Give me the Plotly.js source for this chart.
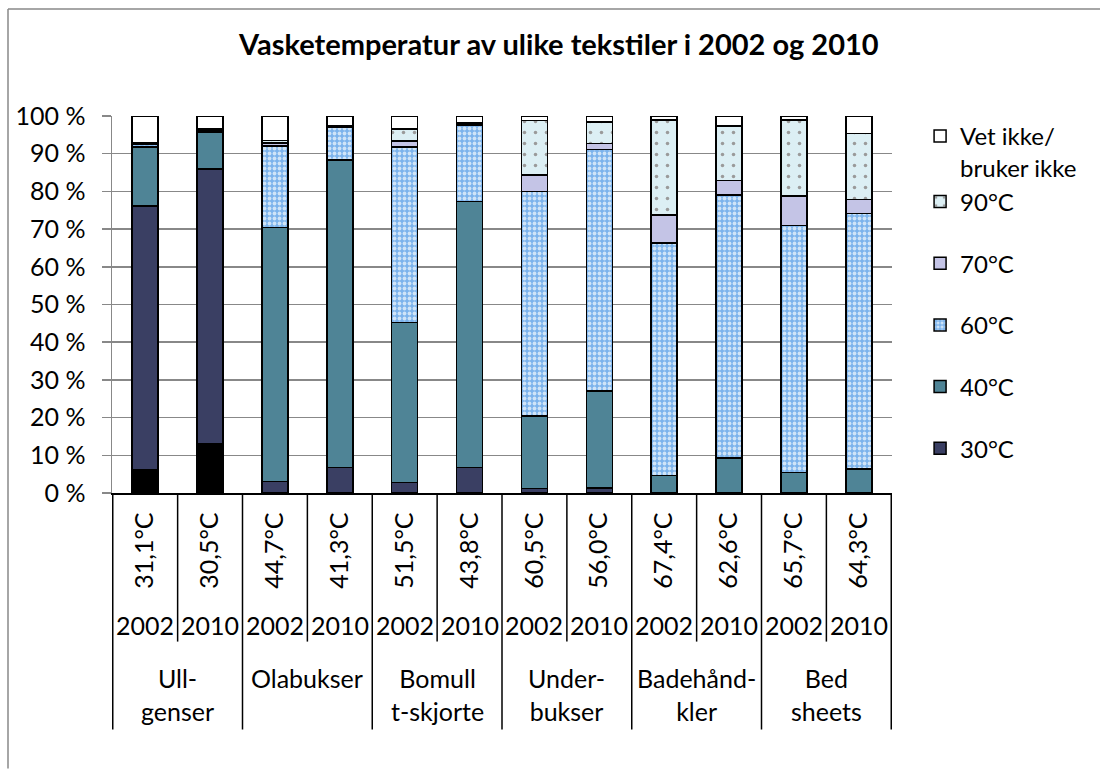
<!DOCTYPE html>
<html>
<head>
<meta charset="utf-8">
<script src="https://cdn.plot.ly/plotly-3.0.1.min.js"></script>
<style>
  html, body { margin: 0; padding: 0; background: #fff; }
  #chart { width: 1100px; height: 769px; }
</style>
</head>
<body>
<div id="chart"></div>
<script>
// ---- data ----
const temps = ['31,1°C','30,5°C','44,7°C','41,3°C','51,5°C','43,8°C','60,5°C','56,0°C','67,4°C','62,6°C','65,7°C','64,3°C'];
const years = ['2002','2010','2002','2010','2002','2010','2002','2010','2002','2010','2002','2010'];
const products = ['Ull-<br>genser','Olabukser','Bomull<br>t-skjorte','Under-<br>bukser','Badehånd-<br>kler','Bed<br>sheets'];

const under30 = [6.2, 13.0, 0, 0, 0, 0, 0, 0, 0, 0, 0, 0];
const c30 = [69.9, 73.0, 3.1, 6.8, 2.8, 6.7, 1.2, 1.3, 0, 0, 0, 0];
const c40 = [15.7, 9.8, 67.3, 81.5, 42.4, 70.6, 19.2, 25.7, 4.7, 9.3, 5.5, 6.4];
const c60 = [0.6, 0.3, 21.7, 8.6, 46.6, 20.2, 59.6, 64.1, 61.6, 69.7, 65.5, 67.8];
const c70 = [0.3, 0.2, 0.7, 0.3, 1.6, 0.4, 4.3, 1.6, 7.4, 3.9, 7.8, 3.7];
const c90 = [0.2, 0.2, 0.7, 0.3, 3.2, 0.4, 14.5, 5.7, 25.2, 14.4, 20.1, 17.4];
const vetIkke = [7.1, 3.5, 6.5, 2.5, 3.4, 1.7, 1.2, 1.6, 1.1, 2.7, 1.1, 4.7];
const yTicks = [0, 10, 20, 30, 40, 50, 60, 70, 80, 90, 100];
const yTickText = ['0 %', '10 %', '20 %', '30 %', '40 %', '50 %', '60 %', '70 %', '80 %', '90 %', '100 %'];

// ---- styling ----
const FONT = 'Lato, Carlito, Calibri, "Open Sans", sans-serif';
const FS = 25;
const line = {color: '#000000', width: 1.5};

function bar(name, y, marker, extra) {
  return Object.assign({
    type: 'bar', name: name, x: temps, y: y,
    marker: Object.assign({line: line}, marker),
    hoverinfo: 'name+y'
  }, extra || {});
}

const traces = [
  bar('Under 30°C', under30, {color: '#000000'}, {showlegend: false}),
  bar('30°C', c30, {color: '#3a3f63'}, {legendgroup: 'g30', legendrank: 6}),
  bar('40°C', c40, {color: '#4f8496'}, {legendgroup: 'g40', legendrank: 5}),
  bar('60°C', c60, {color: '#80b5ec', pattern: {shape: '.', fillmode: 'replace', bgcolor: '#7cb3ec', fgcolor: '#cfe4f8', size: 5, solidity: 0.45}}, {legendgroup: 'g60', legendrank: 4}),
  bar('70°C', c70, {color: '#c4c4e6'}, {legendgroup: 'g70', legendrank: 3}),
  bar('90°C', c90, {color: '#dceff4', pattern: {shape: '.', fillmode: 'replace', bgcolor: '#dceff4', fgcolor: '#9a9a9a', size: 11, solidity: 0.08}}, {legendgroup: 'gtop', legendrank: 2}),
  bar('Vet ikke/<br>bruker ikke', vetIkke, {color: '#ffffff'}, {legendgroup: 'gtop', legendrank: 1})
];

// geometry helpers (paper coords)
const L = 112, R = 208, T = 116, B = 769 - 493.3;
const PW = 1100 - L - R, PH = 769 - T - B;
const py = px => (769 - B - px) / PH;
const pxx = px => (px - L) / PW;

const annotations = [];
years.forEach((yr, i) => {
  annotations.push({x: i, xref: 'x', y: py(625), yref: 'paper', text: yr, showarrow: false,
    xanchor: 'center', yanchor: 'middle', font: {family: FONT, size: FS, color: '#000'}});
});
products.forEach((p, j) => {
  annotations.push({x: 2 * j + 0.5, xref: 'x', y: py(661), yref: 'paper', text: p, showarrow: false,
    xanchor: 'center', yanchor: 'top', font: {family: FONT, size: FS, color: '#000'}});
});

const shapes = [];
for (let k = 0; k <= temps.length; k++) {
  const long = (k % 2 === 0);
  shapes.push({type: 'line', xref: 'x', yref: 'paper', x0: k - 0.5, x1: k - 0.5,
    y0: 0, y1: long ? py(730) : py(642), line: {color: '#000', width: 1.5}});
}
// outer chart border (left & top)
shapes.push({type: 'line', xref: 'paper', yref: 'paper', x0: pxx(8), x1: pxx(1100), y0: py(9), y1: py(9), line: {color: '#888', width: 1.5}});
shapes.push({type: 'line', xref: 'paper', yref: 'paper', x0: pxx(8), x1: pxx(8), y0: py(9), y1: py(769), line: {color: '#888', width: 1.5}});

const layout = {
  width: 1100, height: 769,
  margin: {l: L, r: R, t: T, b: B, pad: 0},
  paper_bgcolor: '#ffffff', plot_bgcolor: '#ffffff',
  barmode: 'stack', bargap: 0.6,
  font: {family: FONT, size: FS, color: '#000'},
  title: {text: '<b>Vasketemperatur av ulike tekstiler i 2002 og 2010</b>', x: 0.508, xanchor: 'center',
    y: 1 - 45 / 769, yanchor: 'middle', font: {family: FONT, size: 29, color: '#000'}},
  xaxis: {type: 'category', tickangle: -90, ticks: '', showgrid: false, showline: true,
    linecolor: '#000', linewidth: 1.5, tickfont: {family: FONT, size: FS, color: '#000'},
    ticklabelstandoff: 8, fixedrange: true, zeroline: false},
  yaxis: {range: [0, 100], tickmode: 'array', tickvals: yTicks, ticktext: yTickText, ticks: 'outside', ticklen: 9,
    tickcolor: '#888', tickwidth: 1.5, showline: true, linecolor: '#888', linewidth: 1.5,
    gridcolor: '#888888', gridwidth: 1.5, zeroline: false, ticklabelstandoff: 11,
    tickfont: {family: FONT, size: FS, color: '#000'}, fixedrange: true},
  legend: {x: 1.036, xanchor: 'left', y: 1.0 + 2 / 377.3, yanchor: 'top', traceorder: 'grouped',
    tracegroupgap: 27.5, valign: 'top', font: {family: FONT, size: 24, color: '#000'},
    bgcolor: 'rgba(0,0,0,0)', itemwidth: 30},
  annotations: annotations,
  shapes: shapes,
  showlegend: true
};

Plotly.newPlot('chart', traces, layout, {displayModeBar: false, staticPlot: true});
</script>
</body>
</html>
